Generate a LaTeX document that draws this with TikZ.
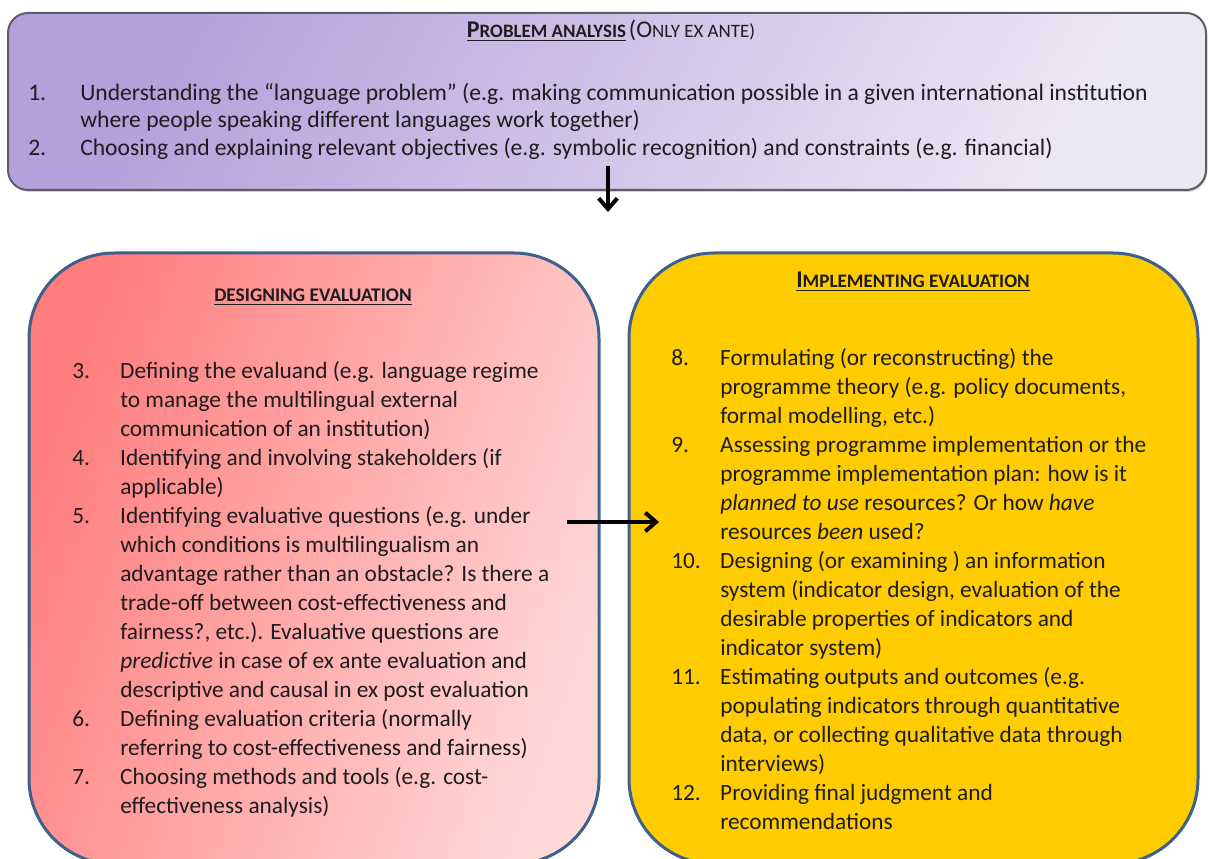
\documentclass[tikz,border=0pt]{standalone}
\usepackage{fontspec}
\setmainfont{Carlito}
\usetikzlibrary{arrows.meta,shadows}

\definecolor{lilacdark}{RGB}{180,160,219}
\definecolor{lilaclight}{RGB}{236,231,245}
\definecolor{rosedark}{RGB}{255,125,125}
\definecolor{roselight}{RGB}{255,216,216}
\definecolor{gold}{RGB}{255,204,0}
\definecolor{boxblue}{RGB}{62,96,140}
\definecolor{edgegray}{RGB}{95,92,102}
\definecolor{ink}{RGB}{30,28,30}

% small caps by hand: big first letter, smaller rest
\newcommand{\fakesc}[3]{{\fontsize{18}{20}\selectfont #2}{\fontsize{#1}{20}\selectfont #3}}

\tikzset{
  stagebox/.style={draw=boxblue, line width=2.25pt, rounded corners=64pt, inner sep=0pt},
  listtext/.style={anchor=north west, inner sep=0pt, text=ink, font=\fontsize{17.5}{21.75}\selectfont},
  headtext/.style={anchor=base, inner sep=0pt, text=ink},
  flow/.style={line width=3pt, -{Straight Barb[length=8pt,width=14pt]}}
}

\begin{document}
\begin{tikzpicture}[x=0.75pt, y=-0.75pt]
  \useasboundingbox (0,0) rectangle (1208,859);
  \clip (0,0) rectangle (1208,859);

  % problem analysis box
  \node (problem) [draw=edgegray, line width=1.5pt, rounded corners=15pt, inner sep=0pt,
    minimum width=898.5pt, minimum height=132.75pt,
    left color=lilacdark, right color=lilaclight, shading angle=60,
    drop shadow={shadow xshift=1pt, shadow yshift=-1.5pt, opacity=0.35}] at (607,101.5) {};
  \node (problemhead) [headtext] at (611,38)
    {\textbf{\underline{\fakesc{14.2}{P}{ROBLEM ANALYSIS}}} \fakesc{14.2}{(O}{NLY EX ANTE)}};
  \node (problemlist) [listtext, font=\fontsize{17.7}{20.6}\selectfont] at (28,81) {%
    \begin{tabular}{@{}p{39pt}@{}l@{}}
    1. & Understanding the “language problem” (e.g. making communication possible in a given international institution\\
       & where people speaking different languages work together)\\
    2. & Choosing and explaining relevant objectives (e.g. symbolic recognition) and constraints (e.g. financial)
    \end{tabular}};

  % the two stages
  \node (design) [stagebox, minimum width=427.5pt, minimum height=458.25pt,
    left color=rosedark, right color=roselight, shading angle=70] at (314,558.5) {};
  \node (implement) [stagebox, fill=gold, minimum width=426.75pt, minimum height=458.25pt] at (913.5,558.5) {};

  \node (designhead) [headtext, font=\fontsize{14.5}{18}\selectfont] at (313,302)
    {\textbf{\underline{DESIGNING EVALUATION}}};
  \node (implementhead) [headtext] at (913,288)
    {\textbf{\underline{\fakesc{14.3}{I}{MPLEMENTING EVALUATION}}}};

  \node (designlist) [listtext] at (72,358) {%
    \begin{tabular}{@{}p{36pt}@{}l@{}}
    3. & Defining the evaluand (e.g. language regime\\
       & to manage the multilingual external\\
       & communication of an institution)\\
    4. & Identifying and involving stakeholders (if\\
       & applicable)\\
    5. & Identifying evaluative questions (e.g. under\\
       & which conditions is multilingualism an\\
       & advantage rather than an obstacle? Is there a\\
       & trade-off between cost-effectiveness and\\
       & fairness?, etc.). Evaluative questions are\\
       & \textit{predictive} in case of ex ante evaluation and\\
       & descriptive and causal in ex post evaluation\\
    6. & Defining evaluation criteria (normally\\
       & referring to cost-effectiveness and fairness)\\
    7. & Choosing methods and tools (e.g. cost-\\
       & effectiveness analysis)
    \end{tabular}};

  \node (implementlist) [listtext] at (671,345) {%
    \begin{tabular}{@{}p{36.75pt}@{}l@{}}
    8.  & Formulating (or reconstructing) the\\
        & programme theory (e.g. policy documents,\\
        & formal modelling, etc.)\\
    9.  & Assessing programme implementation or the\\
        & programme implementation plan: how is it\\
        & \textit{planned to use} resources? Or how \textit{have}\\
        & resources \textit{been} used?\\
    10. & Designing (or examining ) an information\\
        & system (indicator design, evaluation of the\\
        & desirable properties of indicators and\\
        & indicator system)\\
    11. & Estimating outputs and outcomes (e.g.\\
        & populating indicators through quantitative\\
        & data, or collecting qualitative data through\\
        & interviews)\\
    12. & Providing final judgment and\\
        & recommendations
    \end{tabular}};

  % arrows
  \coordinate (downfrom) at (608,166);
  \coordinate (downto) at (608,212);
  \coordinate (acrossfrom) at (567,522);
  \coordinate (acrossto) at (659,522);
  \draw [flow] (downfrom) -- (downto);
  \draw [flow] (acrossfrom) -- (acrossto);
\end{tikzpicture}
\end{document}
